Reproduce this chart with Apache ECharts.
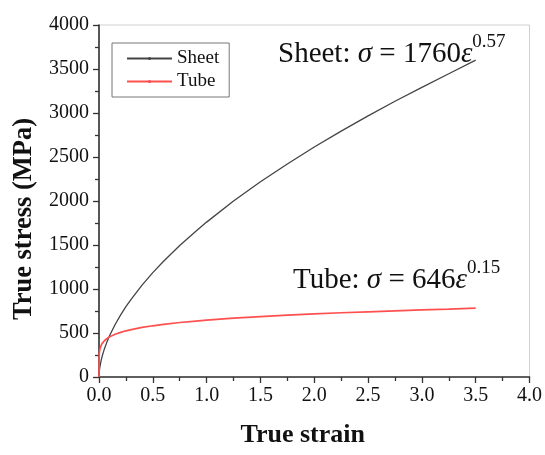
<!DOCTYPE html>
<html>
<head>
<meta charset="utf-8">
<script src="https://cdn.jsdelivr.net/npm/echarts@6/dist/echarts.min.js"></script>
<style>
  html, body { margin: 0; padding: 0; background: #fff; }
  #chart { width: 545px; height: 455px; }
</style>
</head>
<body>
<div id="chart"></div>
<script>
// strain samples
const strain = [0, 0.002, 0.005, 0.01, 0.02, 0.03, 0.05, 0.075, 0.1, 0.15, 0.2, 0.25, 0.3, 0.4, 0.5, 0.6, 0.75, 0.9, 1.0, 1.25, 1.5, 1.75, 2.0, 2.25, 2.5, 2.75, 3.0, 3.25, 3.5]
const sheetStress = [0, 51, 86, 127, 189, 238, 319, 402, 474, 597, 703, 799, 886, 1044, 1186, 1315, 1494, 1657, 1760, 1999, 2218, 2421, 2613, 2794, 2967, 3133, 3292, 3446, 3600]
const tubeStress = [0, 254, 292, 324, 359, 382, 412, 438, 457, 486, 507, 525, 539, 563, 582, 598, 619, 636, 646, 668, 687, 703, 717, 730, 741, 752, 762, 771, 782]

const font = '"Liberation Serif", "Times New Roman", serif'

const chart = echarts.init(document.getElementById('chart'))

const pairs = (ys) => strain.map((x, i) => [x, ys[i]])

const eqRich = {
  n: { fontFamily: font, fontSize: 29, fill: '#111', verticalAlign: 'bottom', lineHeight: 36 },
  i: { fontFamily: font, fontSize: 29, fontStyle: 'italic', fill: '#111', verticalAlign: 'bottom', lineHeight: 36 },
  s: { fontFamily: font, fontSize: 19, fill: '#111', verticalAlign: 'top', lineHeight: 20 }
}

chart.setOption({
  animation: false,
  backgroundColor: '#fff',
  textStyle: { fontFamily: font },
  grid: {
    left: 99, right: 12, top: 25, bottom: 78,
    show: true, borderColor: '#d0d0d0', borderWidth: 1
  },
  legend: {
    left: 112, top: 43,
    orient: 'vertical',
    itemWidth: 45, itemHeight: 4, itemGap: 4,
    padding: [6, 10, 6, 14],
    borderColor: '#777', borderWidth: 1,
    textStyle: { fontFamily: font, fontSize: 19, color: '#111' },
    data: ['Sheet', 'Tube']
  },
  xAxis: {
    type: 'value', min: 0, max: 4, interval: 0.5,
    name: 'True strain', nameLocation: 'middle', nameGap: 45,
    nameTextStyle: { fontFamily: font, fontSize: 26, fontWeight: 'bold', color: '#111', padding: [0, 23, 0, 0] },
    axisLine: { show: true, onZero: false, lineStyle: { color: '#333', width: 1.6 } },
    axisTick: { show: true, inside: false, length: 6, lineStyle: { color: '#333', width: 1.3 } },
    minorTick: { show: true, splitNumber: 2, length: 4, lineStyle: { color: '#333', width: 1.3 } },
    splitLine: { show: false },
    axisLabel: { fontFamily: font, fontSize: 20, color: '#111', margin: 9, formatter: v => v.toFixed(1) }
  },
  yAxis: {
    type: 'value', min: 0, max: 4000, interval: 500,
    name: 'True stress (MPa)', nameLocation: 'middle', nameGap: 61,
    nameTextStyle: { fontFamily: font, fontSize: 26.5, fontWeight: 'bold', color: '#111', padding: [0, 36, 0, 0] },
    axisLine: { show: true, onZero: false, lineStyle: { color: '#333', width: 1.6 } },
    axisTick: { show: true, inside: false, length: 6, lineStyle: { color: '#333', width: 1.3 } },
    minorTick: { show: true, splitNumber: 2, length: 4, lineStyle: { color: '#333', width: 1.3 } },
    splitLine: { show: false },
    axisLabel: { fontFamily: font, fontSize: 20, color: '#111', margin: 10, formatter: v => String(v) }
  },
  series: [
    {
      name: 'Sheet', type: 'line', smooth: false,
      showSymbol: false, symbol: 'circle', symbolSize: 3,
      itemStyle: { color: '#444' },
      lineStyle: { color: '#444', width: 1.3 },
      data: pairs(sheetStress)
    },
    {
      name: 'Tube', type: 'line', smooth: false,
      showSymbol: false, symbol: 'circle', symbolSize: 3,
      itemStyle: { color: '#ff5050' },
      lineStyle: { color: '#ff5050', width: 1.7 },
      data: pairs(tubeStress)
    }
  ],
  graphic: [
    {
      type: 'text', left: 278, top: 33,
      style: { text: '{n|Sheet: }{i|σ}{n| = 1760}{i|ε}{s|0.57}', rich: eqRich }
    },
    {
      type: 'text', left: 293, top: 259,
      style: { text: '{n|Tube: }{i|σ}{n| = 646}{i|ε}{s|0.15}', rich: eqRich }
    }
  ]
})
</script>
</body>
</html>
